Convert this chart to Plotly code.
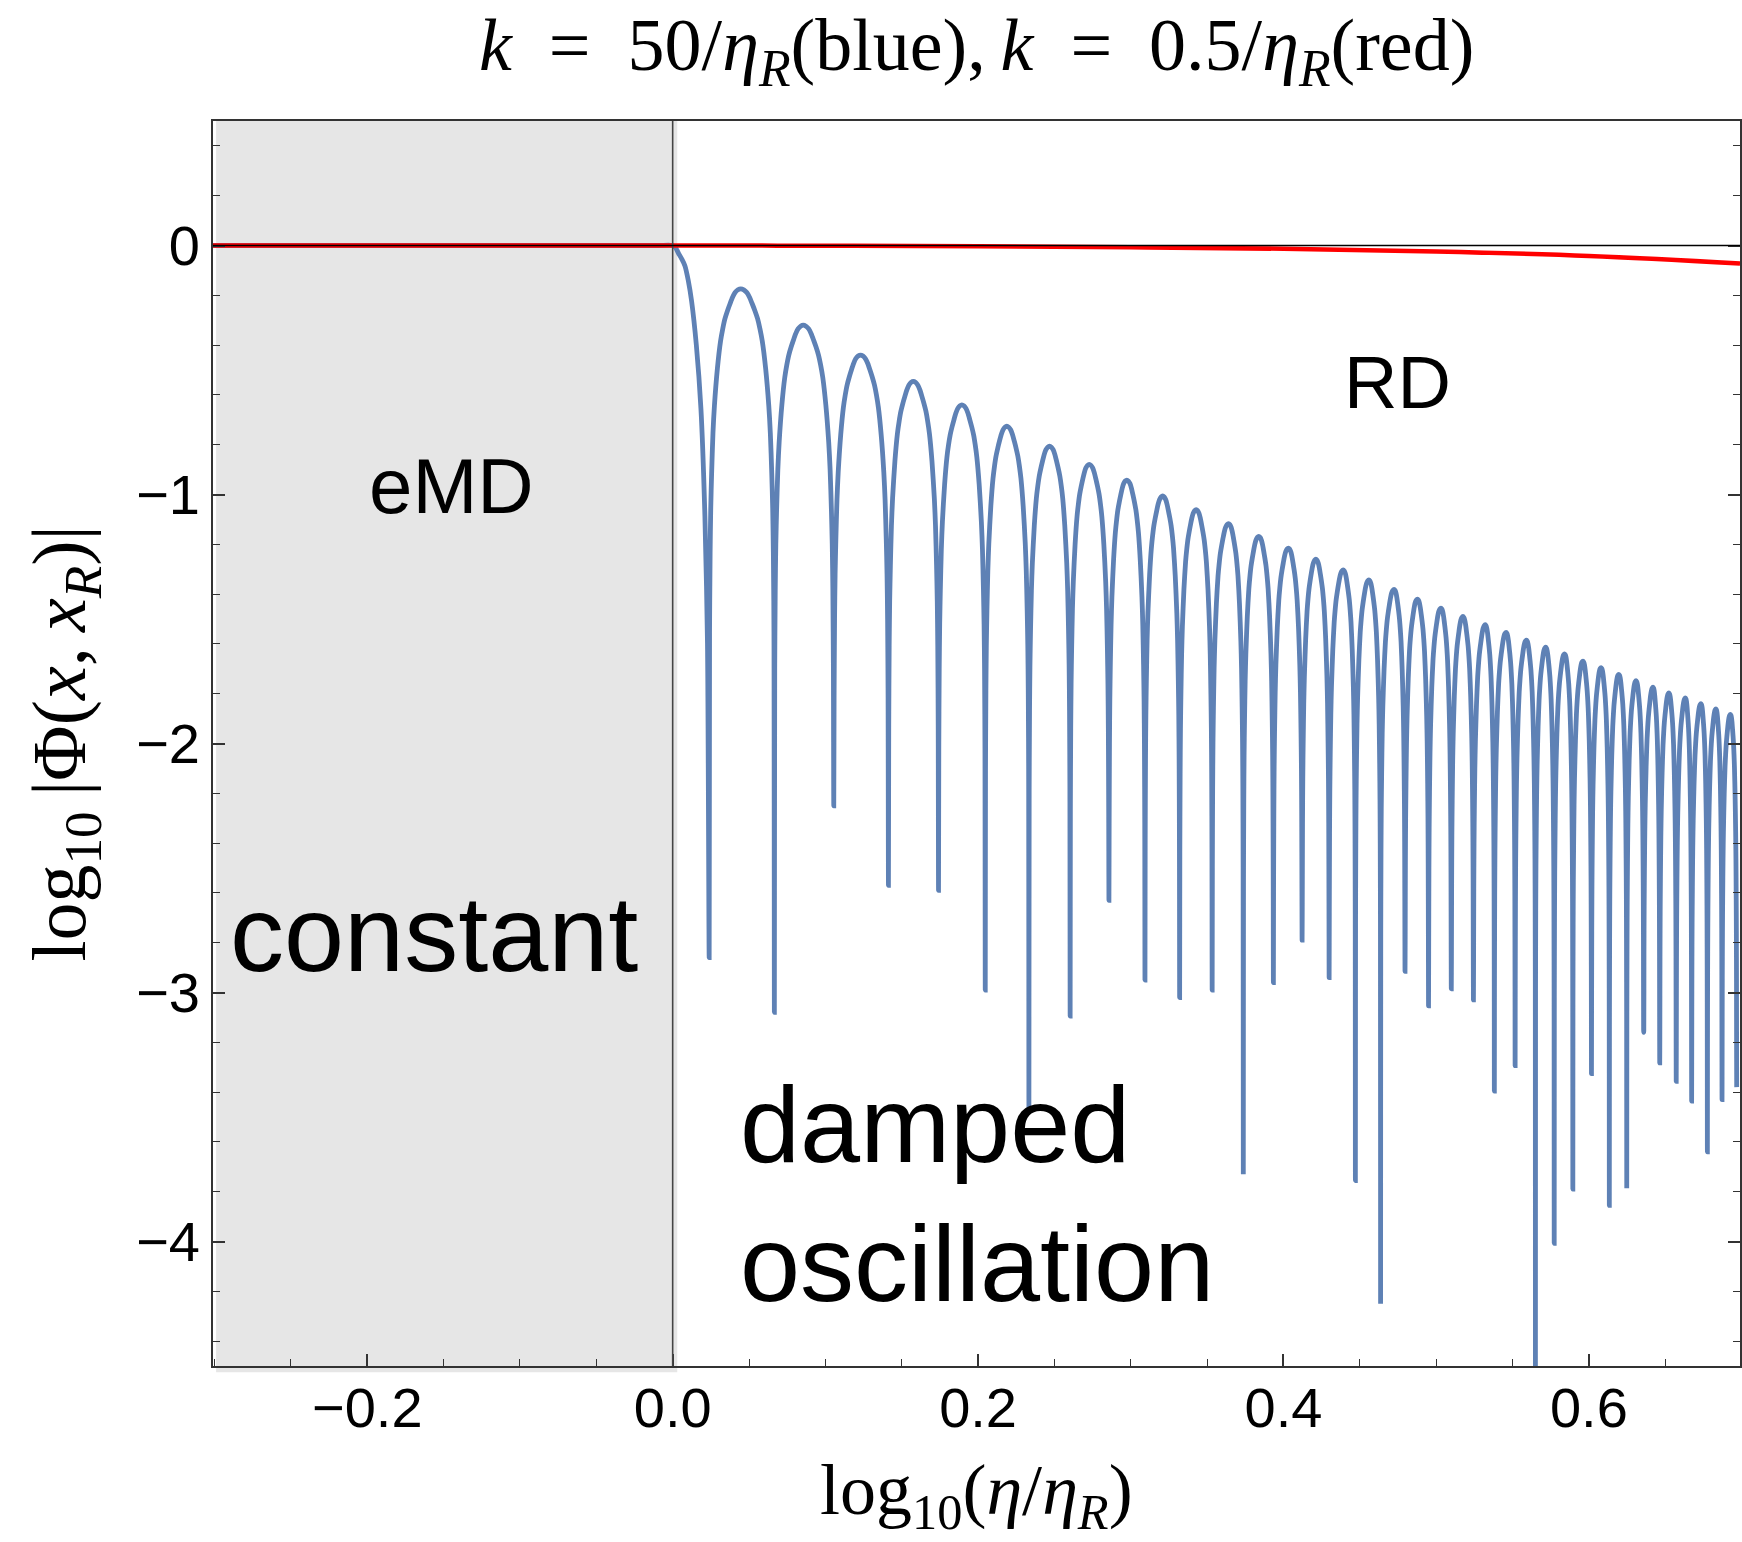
import plotly.graph_objects as go

# ---------------- data ----------------
# zeros (cusps) of the blue curve: position and depth of the spike
dip_x = [0.0239, 0.0666, 0.1055, 0.1413, 0.1741, 0.2047, 0.2333, 0.2603, 0.2857, 0.3093,
         0.3320, 0.3533, 0.3737, 0.3934, 0.4122, 0.4299, 0.4471, 0.4636, 0.4796, 0.4950,
         0.5099, 0.5244, 0.5381, 0.5517, 0.5650, 0.5773, 0.5895, 0.6017, 0.6134, 0.6248,
         0.6359, 0.6464, 0.6572, 0.6673, 0.6776, 0.6872, 0.6968]
dip_y = [-2.86, -3.08, -2.25, -2.57, -2.59, -2.99, -3.47, -3.095, -2.63, -2.95,
         -3.02, -2.99, -3.73, -2.96, -2.79, -2.94, -3.755, -4.25, -2.915, -3.054,
         -2.985, -3.03, -3.396, -3.294, -4.70, -4.007, -3.79, -3.326, -3.855, -3.786,
         -3.16, -3.283, -3.357, -3.436, -3.64, -3.43, -3.38]
# crests of the blue curve
peak_x = [0.0446, 0.0855, 0.1230, 0.1576, 0.1894, 0.2188, 0.2468, 0.2728, 0.2974, 0.3209,
          0.3428, 0.3640, 0.3838, 0.4032, 0.4212, 0.4391, 0.4559, 0.4724, 0.4877, 0.5031,
          0.5175, 0.5321, 0.5458, 0.5591, 0.5717, 0.5841, 0.5961, 0.6080, 0.6196, 0.6309,
          0.6420, 0.6524, 0.6632, 0.6734, 0.6832, 0.6927]
peak_y = [-0.174, -0.320, -0.440, -0.546, -0.640, -0.726, -0.806, -0.879, -0.942, -1.006,
          -1.061, -1.117, -1.168, -1.215, -1.260, -1.303, -1.343, -1.381, -1.420, -1.456,
          -1.490, -1.523, -1.554, -1.585, -1.613, -1.640, -1.669, -1.695, -1.722, -1.748,
          -1.774, -1.797, -1.817, -1.840, -1.861, -1.883]
# shape of one arch: fraction of the way from a zero to the crest,
# and how far (in decades) the curve sits below that crest
arch_frac = [0.012, 0.03, 0.05, 0.078, 0.12, 0.166, 0.26, 0.36, 0.43, 0.50, 0.58, 0.66, 0.74, 0.82, 0.91]
arch_drop = [1.38, 1.06, 0.88, 0.74, 0.58, 0.47, 0.32, 0.21, 0.16, 0.12, 0.088, 0.06, 0.034, 0.015, 0.004]
# constant eMD part and the first fall after eta_R
start_x = [-0.30103, -0.15, -0.01, 0.0, 0.0018, 0.0037, 0.0060, 0.0080, 0.0102, 0.0124,
           0.0155, 0.0185, 0.0211, 0.0228]
start_y = [0.0, 0.0, 0.0, 0.0, -0.008, -0.030, -0.055, -0.081, -0.140, -0.224,
           -0.400, -0.655, -1.085, -1.600]

# red curve (k = 0.5/eta_R)
red_x = [-0.30103, 0.0, 0.1, 0.2, 0.3, 0.4, 0.5, 0.6, 0.69897]
red_y = [0.0, 0.0, -0.001, -0.003, -0.007, -0.013, -0.024, -0.042, -0.072]

x_ticks = [-0.2, 0.0, 0.2, 0.4, 0.6]
x_ticktext = ["\u22120.2", "0.0", "0.2", "0.4", "0.6"]
y_ticks = [-4, -3, -2, -1, 0]
y_ticktext = ["\u22124", "\u22123", "\u22122", "\u22121", "0"]

# ---------------- build blue curve from the read points ----------------
bx = list(start_x)
by = list(start_y)
for i in range(len(peak_x)):
    dl, dr = dip_x[i], dip_x[i + 1]
    px, py = peak_x[i], peak_y[i]
    bx.append(dl)
    by.append(dip_y[i])
    for f, d in zip(arch_frac, arch_drop):
        bx.append(dl + f * (px - dl))
        by.append(py - d)
    bx.append(px)
    by.append(py)
    for f, d in reversed(list(zip(arch_frac, arch_drop))):
        bx.append(dr - f * (dr - px))
        by.append(py - d)
bx.append(dip_x[-1])
by.append(dip_y[-1])

BLUE = "#5E81B5"
FRAME = "#333333"
SANS = "Liberation Sans, Arial, Helvetica, sans-serif"
SERIF = "Liberation Serif, Times New Roman, DejaVu Serif, serif"
SP = "\u2002"

fig = go.Figure()
fig.add_trace(go.Scatter(x=bx, y=by, mode="lines", line_shape="spline",
                         line=dict(color=BLUE, width=4.8, smoothing=0.7), hoverinfo="skip",
                         showlegend=False))
fig.add_trace(go.Scatter(x=red_x, y=red_y, mode="lines", line_shape="spline",
                         line=dict(color="#FF0000", width=4.5), hoverinfo="skip",
                         showlegend=False))

# shaded eMD region
fig.add_shape(type="rect", xref="x", yref="paper", x0=-0.2990, x1=0.003, y0=-0.005, y1=1,
              fillcolor="#E6E6E6", line=dict(width=0), layer="below")
# vertical line at eta_R
fig.add_shape(type="line", xref="x", yref="paper", x0=0, x1=0, y0=0, y1=1,
              line=dict(color="#444444", width=1.6), layer="above")
# horizontal zero line
fig.add_shape(type="line", xref="paper", yref="y", x0=0, x1=1, y0=0, y1=0,
              line=dict(color="#000000", width=1.6), layer="above")

title_txt = ("<i>k</i>" + SP + "=" + SP + "50/<i>η</i><sub><i>R</i></sub>(blue),\u2009<i>k</i>"
             + SP + "=" + SP + "0.5/<i>η</i><sub><i>R</i></sub>(red)")
annotations = [
    dict(text=title_txt,
         xref="paper", yref="paper", x=0.5, y=1.057, xanchor="center", yanchor="middle",
         showarrow=False, font=dict(family=SERIF, size=74, color="black")),
    dict(text="log<sub>10</sub>(<i>η</i>/<i>η</i><sub><i>R</i></sub>)",
         xref="paper", yref="paper", x=0.5, y=-0.1414, xanchor="center", yanchor="bottom",
         showarrow=False, font=dict(family=SERIF, size=72, color="black")),
    dict(text="log<sub>10</sub>\u2009|Φ(<i>x</i>,\u2009<i>x</i><sub><i>R</i></sub>)|",
         xref="paper", yref="paper", x=-0.0975, y=0.5, xanchor="center", yanchor="middle",
         textangle=-90, showarrow=False, font=dict(family=SERIF, size=76, color="black")),
    dict(text="eMD", xref="x", yref="y", x=-0.1448, y=-0.966, xanchor="center", yanchor="middle",
         showarrow=False, font=dict(family=SANS, size=78, color="black")),
    dict(text="RD", xref="x", yref="y", x=0.4747, y=-0.55, xanchor="center", yanchor="middle",
         showarrow=False, font=dict(family=SANS, size=74, color="black")),
    dict(text="constant", xref="x", yref="y", x=-0.156, y=-2.765, xanchor="center", yanchor="middle",
         showarrow=False, font=dict(family=SANS, size=108, color="black")),
    dict(text="damped", xref="x", yref="y", x=0.0427, y=-3.53, xanchor="left", yanchor="middle",
         showarrow=False, font=dict(family=SANS, size=108, color="black")),
    dict(text="oscillation", xref="x", yref="y", x=0.0427, y=-4.088, xanchor="left", yanchor="middle",
         showarrow=False, font=dict(family=SANS, size=108, color="black")),
]

fig.update_layout(
    width=1742, height=1542,
    margin=dict(l=213, r=0, t=121, b=176, pad=0),
    paper_bgcolor="white", plot_bgcolor="white",
    annotations=annotations,
    showlegend=False,
)
fig.update_xaxes(range=[-0.30103, 0.69897], showgrid=False, zeroline=False,
                 showline=True, linecolor=FRAME, linewidth=1.6, mirror=True,
                 ticks="inside", ticklen=12, tickwidth=1.5, tickcolor=FRAME,
                 tickmode="array", tickvals=x_ticks, ticktext=x_ticktext,
                 ticklabelstandoff=-8,
                 tickfont=dict(family=SANS, size=56, color="black"),
                 minor=dict(tickmode="linear", tick0=0, dtick=0.05, ticks="inside",
                            ticklen=7, tickwidth=1.2, tickcolor=FRAME, showgrid=False))
fig.update_yaxes(range=[-4.5, 0.5], showgrid=False, zeroline=False,
                 showline=True, linecolor=FRAME, linewidth=1.6, mirror="ticks",
                 ticks="inside", ticklen=12, tickwidth=1.5, tickcolor=FRAME,
                 tickmode="array", tickvals=y_ticks, ticktext=y_ticktext,
                 tickfont=dict(family=SANS, size=56, color="black"),
                 minor=dict(tickmode="linear", tick0=0, dtick=0.2, ticks="inside",
                            ticklen=7, tickwidth=1.2, tickcolor=FRAME, showgrid=False))

fig.write_html("out.html")
